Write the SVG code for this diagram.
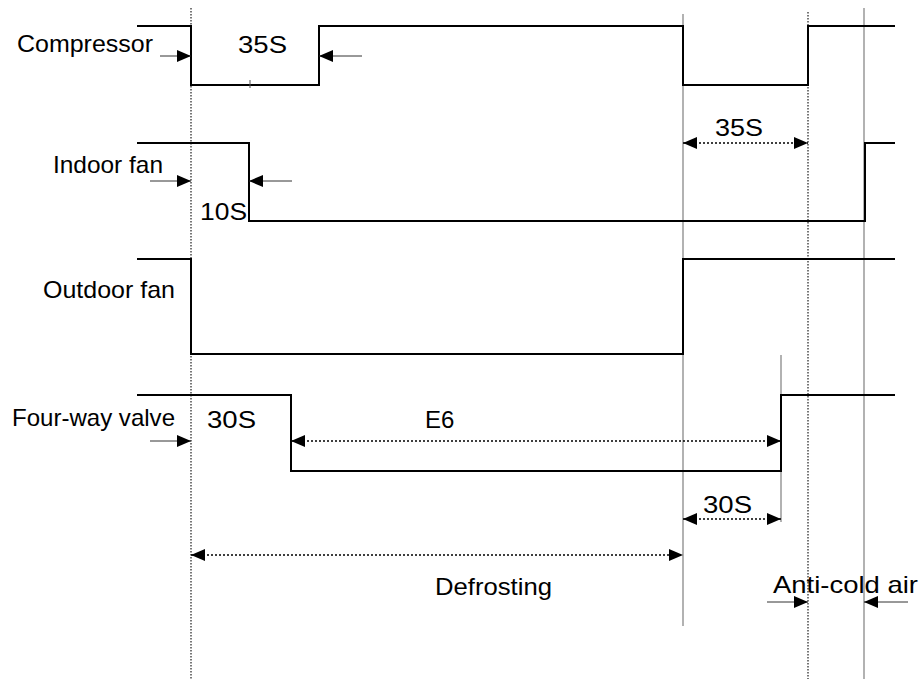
<svg xmlns="http://www.w3.org/2000/svg" width="922" height="679" viewBox="0 0 922 679">
<defs>
<marker id="ah" markerWidth="15" markerHeight="12" refX="14" refY="6" orient="auto-start-reverse" markerUnits="userSpaceOnUse">
<path d="M0,0 L14,6 L0,12 Z" fill="#000"/>
</marker>
</defs>
<style>
.sig{fill:none;stroke:#000;stroke-width:2}
.guide{stroke:#999;stroke-width:1.5;fill:none}
.gdot{stroke:#777;stroke-width:2;stroke-dasharray:1.5 1.5;fill:none}
.arr{stroke:#333;stroke-width:1;fill:none;marker-end:url(#ah)}
.dim{stroke:#000;stroke-width:1.5;stroke-dasharray:2 2;fill:none;marker-start:url(#ah);marker-end:url(#ah)}
text{font-family:"Liberation Sans",Arial,sans-serif;font-size:24px;fill:#000}
</style>
<rect width="922" height="679" fill="#fff"/>
<g id="guides">
<line class="gdot" x1="191" y1="8" x2="191" y2="679"/>
<line class="guide" x1="683" y1="14" x2="683" y2="626"/>
<line class="gdot" x1="808" y1="12" x2="808" y2="679"/>
<line class="guide" x1="864" y1="8" x2="864" y2="679"/>
<line class="guide" x1="781" y1="355" x2="781" y2="522"/>
</g>
<g id="compressor">
<text x="17" y="52" textLength="136" lengthAdjust="spacingAndGlyphs">Compressor</text>
<polyline class="sig" points="137,26 191,26 191,85 319,85 319,26 683,26 683,85 808,85 808,26 895,26"/>
<line x1="250" y1="80" x2="250" y2="88" stroke="#555" stroke-width="1"/>
<text x="238" y="53" textLength="49" lengthAdjust="spacingAndGlyphs">35S</text>
</g>
<g id="indoor-fan">
<text x="53" y="173" textLength="110" lengthAdjust="spacingAndGlyphs">Indoor fan</text>
<polyline class="sig" points="137,143 249,143 249,221 865,221 865,143 895,143"/>
<text x="200" y="220" textLength="47" lengthAdjust="spacingAndGlyphs">10S</text>
</g>
<g id="outdoor-fan">
<text x="43" y="298" textLength="132" lengthAdjust="spacingAndGlyphs">Outdoor fan</text>
<polyline class="sig" points="137,259 191,259 191,354 683,354 683,259 895,259"/>
</g>
<g id="four-way-valve">
<text x="12" y="426" textLength="163" lengthAdjust="spacingAndGlyphs">Four-way valve</text>
<polyline class="sig" points="137,395 291,395 291,471 781,471 781,395 895,395"/>
<text x="207" y="428" textLength="49" lengthAdjust="spacingAndGlyphs">30S</text>
<text x="425" y="428">E6</text>
</g>
<g id="labels">
<text x="715" y="136" textLength="48" lengthAdjust="spacingAndGlyphs">35S</text>
<text x="703" y="513" textLength="49" lengthAdjust="spacingAndGlyphs">30S</text>
<text x="435" y="595" textLength="117" lengthAdjust="spacingAndGlyphs">Defrosting</text>
<text x="773" y="593" textLength="145" lengthAdjust="spacingAndGlyphs">Anti-cold air</text>
</g>
<g id="connectors">
<line class="arr" x1="160" y1="56" x2="191" y2="56"/>
<line class="arr" x1="362" y1="56" x2="319" y2="56"/>
<line class="arr" x1="150" y1="181" x2="191" y2="181"/>
<line class="arr" x1="292" y1="181" x2="249" y2="181"/>
<line class="arr" x1="150" y1="441" x2="191" y2="441"/>
<line class="dim" x1="291" y1="441" x2="781" y2="441"/>
<line class="dim" x1="683" y1="143" x2="808" y2="143"/>
<line class="dim" x1="683" y1="519" x2="781" y2="519"/>
<line class="dim" x1="191" y1="555" x2="683" y2="555"/>
<line class="arr" x1="767" y1="602" x2="808" y2="602"/>
<line class="arr" x1="908" y1="602" x2="864" y2="602"/>
</g>
</svg>
